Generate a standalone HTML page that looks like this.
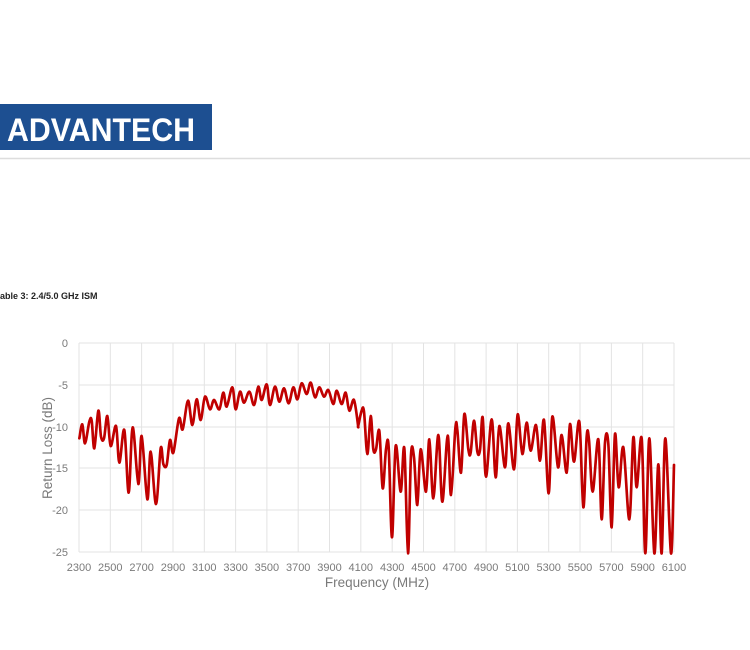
<!DOCTYPE html>
<html><head><meta charset="utf-8"><style>
body{margin:0;background:#fff;width:750px;height:650px;overflow:hidden;font-family:"Liberation Sans",sans-serif}
</style></head><body>
<svg width="750" height="650" xmlns="http://www.w3.org/2000/svg" style="position:absolute;left:0;top:0">
<rect x="0" y="104" width="212" height="46" fill="#1d4f91"/>
<text x="7" y="141" fill="#fff" font-family="Liberation Sans,sans-serif" font-weight="bold" font-size="32" textLength="188" lengthAdjust="spacingAndGlyphs">ADVANTECH</text>
<line x1="0" y1="158.5" x2="750" y2="158.5" stroke="#ddd" stroke-width="1.5"/>
<text x="0" y="299" font-family="Liberation Sans,sans-serif" font-weight="bold" font-size="9" fill="#222">able 3: 2.4/5.0 GHz ISM</text>
<g stroke="#e3e3e3" stroke-width="1">
<line x1="79" y1="343" x2="674" y2="343"/><line x1="79" y1="385" x2="674" y2="385"/><line x1="79" y1="427" x2="674" y2="427"/><line x1="79" y1="468" x2="674" y2="468"/><line x1="79" y1="510" x2="674" y2="510"/><line x1="79" y1="552" x2="674" y2="552"/>
<line x1="79" y1="343" x2="79" y2="552"/><line x1="110.3" y1="343" x2="110.3" y2="552"/><line x1="141.6" y1="343" x2="141.6" y2="552"/><line x1="173" y1="343" x2="173" y2="552"/><line x1="204.3" y1="343" x2="204.3" y2="552"/><line x1="235.6" y1="343" x2="235.6" y2="552"/><line x1="266.9" y1="343" x2="266.9" y2="552"/><line x1="298.2" y1="343" x2="298.2" y2="552"/><line x1="329.5" y1="343" x2="329.5" y2="552"/><line x1="360.8" y1="343" x2="360.8" y2="552"/><line x1="392.2" y1="343" x2="392.2" y2="552"/><line x1="423.5" y1="343" x2="423.5" y2="552"/><line x1="454.8" y1="343" x2="454.8" y2="552"/><line x1="486.1" y1="343" x2="486.1" y2="552"/><line x1="517.4" y1="343" x2="517.4" y2="552"/><line x1="548.7" y1="343" x2="548.7" y2="552"/><line x1="580" y1="343" x2="580" y2="552"/><line x1="611.4" y1="343" x2="611.4" y2="552"/><line x1="642.7" y1="343" x2="642.7" y2="552"/><line x1="674" y1="343" x2="674" y2="552"/>
</g>
<g font-family="Liberation Sans,sans-serif" font-size="11" fill="#7a7a7a" text-anchor="end">
<text x="68" y="347">0</text><text x="68" y="389">-5</text><text x="68" y="431">-10</text><text x="68" y="472">-15</text><text x="68" y="514">-20</text><text x="68" y="556">-25</text>
</g>
<g font-family="Liberation Sans,sans-serif" font-size="11" fill="#7a7a7a" text-anchor="middle">
<text x="79" y="571">2300</text><text x="110.3" y="571">2500</text><text x="141.6" y="571">2700</text><text x="173" y="571">2900</text><text x="204.3" y="571">3100</text><text x="235.6" y="571">3300</text><text x="266.9" y="571">3500</text><text x="298.2" y="571">3700</text><text x="329.5" y="571">3900</text><text x="360.8" y="571">4100</text><text x="392.2" y="571">4300</text><text x="423.5" y="571">4500</text><text x="454.8" y="571">4700</text><text x="486.1" y="571">4900</text><text x="517.4" y="571">5100</text><text x="548.7" y="571">5300</text><text x="580" y="571">5500</text><text x="611.4" y="571">5700</text><text x="642.7" y="571">5900</text><text x="674" y="571">6100</text>
<text x="377" y="587" font-size="13.5">Frequency (MHz)</text>
<text transform="translate(52,448) rotate(-90)" font-size="13.5">Return Loss (dB)</text>
</g>
<g transform="translate(30,330) scale(0.33333)" fill="none" stroke="#c00000" stroke-width="8" stroke-linejoin="round" stroke-linecap="round">
<polyline class="c" points="148,325 157,283 165,340 178,275 185,272 193,355 205,242 213,320 222,325 232,258 242,348 258,288 268,398 283,300 296,488 308,292 325,462 335,318 352,508 362,365 378,522 392,355 400,402 410,405 420,330 430,368 447,265 458,298 474,212 487,285 500,208 512,270 525,200 540,238 552,210 568,238 580,188 590,230 607,172 617,238 630,185 642,218 658,185 672,225 685,170 695,210 710,163 720,225 735,170 748,215 762,175 776,220 790,172 802,208 815,160 830,192 842,158 855,202 868,172 882,200 895,180 910,222 920,182 935,222 947,188 958,242 972,210 985,292"/>
</g>
<g transform="translate(350,370) scale(0.33333)" fill="none" stroke="#c00000" stroke-width="8" stroke-linejoin="round" stroke-linecap="round">
<polyline class="c" points="24,171 35,122 42,125 52,252 62,138 70,238 78,238 88,183 98,355 108,238 116,232 126,502 137,228 152,365 163,235 174,550 183,255 192,262 202,405 212,238 228,365 238,208 250,385 265,195 277,395 293,197 303,375 316,175 322,180 333,308 343,132 355,238 362,248 372,152 382,245 390,240 398,142 408,320 425,148 437,322 448,168 465,292 475,160 492,298 503,133 517,252 530,158 542,242 558,165 570,272 582,150 596,370 607,140 624,292 635,195 650,308 660,162 672,275 688,155 700,412 710,200 717,210 728,365 745,208 755,448 765,218 775,222 785,472 795,192 806,352 820,232 838,448 850,202 860,352 875,205 886,550 898,205 913,550 925,283 935,550 946,205 963,550 972,285"/>
</g>
</svg>
<script>
document.querySelectorAll('polyline.c').forEach(function(pl){
  var p=pl.getAttribute('points').trim().split(/\s+/).map(function(s){return s.split(',').map(Number);});
  var d='M'+p[0][0]+','+p[0][1];
  for(var i=0;i<p.length-1;i++){
    var p0=p[i-1]||p[i],p1=p[i],p2=p[i+1],p3=p[i+2]||p2;
    var c1x=p1[0]+(p2[0]-p0[0])/6,c1y=p1[1]+(p2[1]-p0[1])/6;
    var c2x=p2[0]-(p3[0]-p1[0])/6,c2y=p2[1]-(p3[1]-p1[1])/6;
    d+=' C'+c1x+','+c1y+' '+c2x+','+c2y+' '+p2[0]+','+p2[1];
  }
  var path=document.createElementNS('http://www.w3.org/2000/svg','path');
  path.setAttribute('d',d);
  pl.parentNode.replaceChild(path,pl);
});
</script>
</body></html>
